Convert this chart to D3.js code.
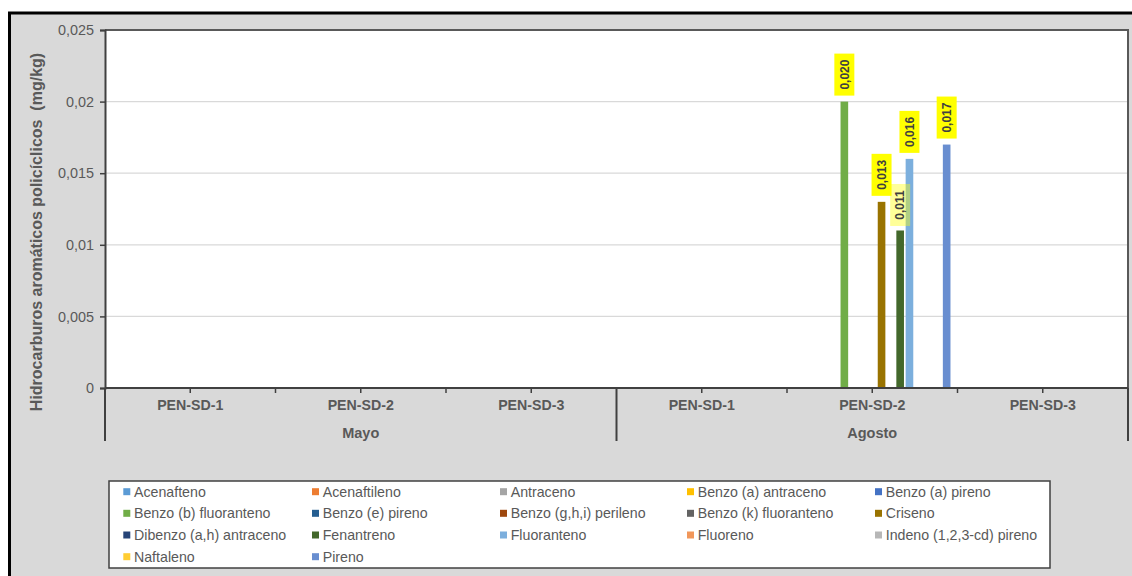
<!DOCTYPE html>
<html>
<head>
<meta charset="utf-8">
<script src="https://cdn.jsdelivr.net/npm/d3@7"></script>
<style>
  html, body { margin: 0; padding: 0; background: #ffffff; }
  svg { display: block; font-family: "Liberation Sans", Arial, sans-serif; }
</style>
</head>
<body>
<svg id="chart" width="1132" height="576"></svg>
<script>
// ---------------- DATA ----------------
const months = ["Mayo", "Agosto"];
const sites = ["PEN-SD-1", "PEN-SD-2", "PEN-SD-3"];
const seriesNames = [
  "Acenafteno", "Acenaftileno", "Antraceno", "Benzo (a) antraceno", "Benzo (a) pireno",
  "Benzo (b) fluoranteno", "Benzo (e) pireno", "Benzo (g,h,i) perileno", "Benzo (k) fluoranteno", "Criseno",
  "Dibenzo (a,h) antraceno", "Fenantreno", "Fluoranteno", "Fluoreno", "Indeno (1,2,3-cd) pireno",
  "Naftaleno", "Pireno"
];
// values per series across: Mayo SD-1, SD-2, SD-3, Agosto SD-1, SD-2, SD-3
const seriesValues = [
  [0, 0, 0, 0, 0, 0],
  [0, 0, 0, 0, 0, 0],
  [0, 0, 0, 0, 0, 0],
  [0, 0, 0, 0, 0, 0],
  [0, 0, 0, 0, 0, 0],
  [0, 0, 0, 0, 0.020, 0],
  [0, 0, 0, 0, 0, 0],
  [0, 0, 0, 0, 0, 0],
  [0, 0, 0, 0, 0, 0],
  [0, 0, 0, 0, 0.013, 0],
  [0, 0, 0, 0, 0, 0],
  [0, 0, 0, 0, 0.011, 0],
  [0, 0, 0, 0, 0.016, 0],
  [0, 0, 0, 0, 0, 0],
  [0, 0, 0, 0, 0, 0],
  [0, 0, 0, 0, 0, 0],
  [0, 0, 0, 0, 0.017, 0]
];
const seriesColors = [
  "#5b9bd5", "#ed7d31", "#a5a5a5", "#ffc000", "#4472c4",
  "#70ad47", "#255e91", "#9e480e", "#636363", "#997300",
  "#264478", "#43682b", "#7cafdd", "#f1975a", "#b7b7b7",
  "#ffcd33", "#698ed0"
];
const yTicks = [0, 0.005, 0.01, 0.015, 0.02, 0.025];
const yTitle = "Hidrocarburos aromáticos policíclicos  (mg/kg)";
const paleLabelSeries = ["Fenantreno"];

// ---------------- BUILD ----------------
const categories = [];
months.forEach((m, mi) => sites.forEach((s, si) => categories.push({ id: mi * 3 + si, month: m, site: s })));

const svg = d3.select("#chart");
const W = 1132, H = 576;
const plot = { left: 105, right: 1128, top: 30, bottom: 388 };
const grey = "#595959";
const locale = d3.formatLocale({ decimal: ",", thousands: ".", grouping: [3], currency: ["", "€"] });
const fmtTick = locale.format("~g");
const fmtLabel = locale.format(".3f");

// outer frame
svg.append("rect").attr("x", 9.5).attr("y", 13).attr("width", W + 20).attr("height", H + 20)
  .attr("fill", "#d9d9d9").attr("stroke", "#000").attr("stroke-width", 3);

const x0 = d3.scaleBand().domain(categories.map(d => d.id)).range([plot.left, plot.right]).padding(0);
const x1 = d3.scaleBand().domain(seriesNames).range([0, x0.bandwidth()]).paddingInner(0.18).paddingOuter(0.755);
const y = d3.scaleLinear().domain([0, 0.025]).range([plot.bottom, plot.top]);

// plot background
svg.append("rect").attr("x", plot.left).attr("y", plot.top)
  .attr("width", plot.right - plot.left).attr("height", plot.bottom - plot.top)
  .attr("fill", "#fff");

// gridlines
svg.append("g").selectAll("line").data(yTicks.filter(t => t > 0)).join("line")
  .attr("x1", plot.left).attr("x2", plot.right)
  .attr("y1", d => y(d)).attr("y2", d => y(d))
  .attr("stroke", "#d9d9d9").attr("stroke-width", 1.2);

// plot border top/right
svg.append("path")
  .attr("d", `M${plot.left},${plot.top}H${plot.right}V${plot.bottom}`)
  .attr("fill", "none").attr("stroke", grey).attr("stroke-width", 2);

// bars
const barData = [];
seriesNames.forEach((name, si) => {
  seriesValues[si].forEach((v, ci) => {
    if (v > 0) barData.push({ name, si, ci, v });
  });
});
svg.append("g").selectAll("rect").data(barData).join("rect")
  .attr("x", d => x0(d.ci) + x1(d.name))
  .attr("width", x1.bandwidth())
  .attr("y", d => y(d.v))
  .attr("height", d => y(0) - y(d.v))
  .attr("fill", d => seriesColors[d.si]);

// data labels
const lab = svg.append("g").selectAll("g").data(barData).join("g")
  .attr("transform", d => {
    const cx = x0(d.ci) + x1(d.name) + x1.bandwidth() / 2;
    const gap = paleLabelSeries.includes(d.name) ? 4.5 : 6;
    return `translate(${cx},${y(d.v) - gap - 21})`;
  });
lab.append("rect").attr("x", -10).attr("y", -21).attr("width", 20).attr("height", 42)
  .attr("fill", "#ffff00")
  .attr("fill-opacity", d => paleLabelSeries.includes(d.name) ? 0.4 : 1);
lab.append("text").attr("transform", "rotate(-90)")
  .attr("text-anchor", "middle").attr("dy", "0.36em")
  .attr("font-size", 12).attr("font-weight", "bold").attr("fill", "#404040")
  .text(d => fmtLabel(d.v));

// y axis
const yAxis = svg.append("g").attr("transform", `translate(${plot.left},0)`)
  .call(d3.axisLeft(y).tickValues(yTicks).tickFormat(fmtTick).tickSize(5).tickPadding(6));
yAxis.select(".domain").attr("stroke", "#404040").attr("stroke-width", 2);
yAxis.selectAll(".tick line").attr("stroke", "#404040").attr("stroke-width", 1.5);
yAxis.selectAll(".tick text").attr("font-size", 14.4).attr("fill", grey)
  .attr("font-family", "Liberation Sans, Arial, sans-serif");

// x axis
const xAxis = svg.append("g").attr("transform", `translate(0,${plot.bottom})`)
  .call(d3.axisBottom(x0).tickFormat(i => categories[i].site).tickSize(5).tickPadding(7));
xAxis.select(".domain").remove();
xAxis.selectAll(".tick line").attr("stroke", "#404040").attr("stroke-width", 1.5);
xAxis.selectAll(".tick text").attr("font-size", 14.2).attr("font-weight", "bold").attr("fill", grey)
  .attr("font-family", "Liberation Sans, Arial, sans-serif");
svg.append("line").attr("x1", plot.left).attr("x2", plot.right)
  .attr("y1", plot.bottom).attr("y2", plot.bottom)
  .attr("stroke", "#404040").attr("stroke-width", 2);
// boundary ticks between categories
svg.append("g").selectAll("line").data(categories.filter(c => c.id % 3 !== 0)).join("line")
  .attr("x1", d => x0(d.id)).attr("x2", d => x0(d.id))
  .attr("y1", plot.bottom).attr("y2", plot.bottom + 5)
  .attr("stroke", "#404040").attr("stroke-width", 1.5);
// month separators
const monthBounds = [0, 3, 6].map(i => i < 6 ? x0(i) : plot.right);
svg.append("g").selectAll("line").data(monthBounds).join("line")
  .attr("x1", d => d).attr("x2", d => d)
  .attr("y1", plot.bottom).attr("y2", 441)
  .attr("stroke", "#404040").attr("stroke-width", 2);
// month labels
svg.append("g").selectAll("text").data(months).join("text")
  .attr("x", (m, i) => (x0(i * 3) + (i * 3 + 3 < 6 ? x0(i * 3 + 3) : plot.right)) / 2)
  .attr("y", 433).attr("dy", "0.36em").attr("text-anchor", "middle")
  .attr("font-size", 14.5).attr("font-weight", "bold").attr("fill", grey)
  .text(d => d);

// y title
svg.append("text")
  .attr("transform", `translate(42,232) rotate(-90)`)
  .attr("text-anchor", "middle")
  .attr("font-size", 16).attr("font-weight", "bold").attr("fill", grey)
  .style("white-space", "pre")
  .text(yTitle);

// legend
const legend = svg.append("g");
legend.append("rect").attr("x", 109).attr("y", 481).attr("width", 941).attr("height", 87)
  .attr("fill", "#fff").attr("stroke", "#404040").attr("stroke-width", 1.5);
const colX = [123.3, 312, 500, 687, 875];
const rowY = [491.7, 513.3, 535, 556.7];
const items = legend.selectAll("g").data(seriesNames).join("g")
  .attr("transform", (d, i) => `translate(${colX[i % 5]},${rowY[Math.floor(i / 5)]})`);
items.append("rect").attr("x", 0).attr("y", -3.5).attr("width", 7).attr("height", 7)
  .attr("fill", (d, i) => seriesColors[i]);
items.append("text").attr("x", 10.7).attr("dy", "0.36em")
  .attr("font-size", 14.2).attr("fill", grey).text(d => d);
</script>
</body>
</html>
